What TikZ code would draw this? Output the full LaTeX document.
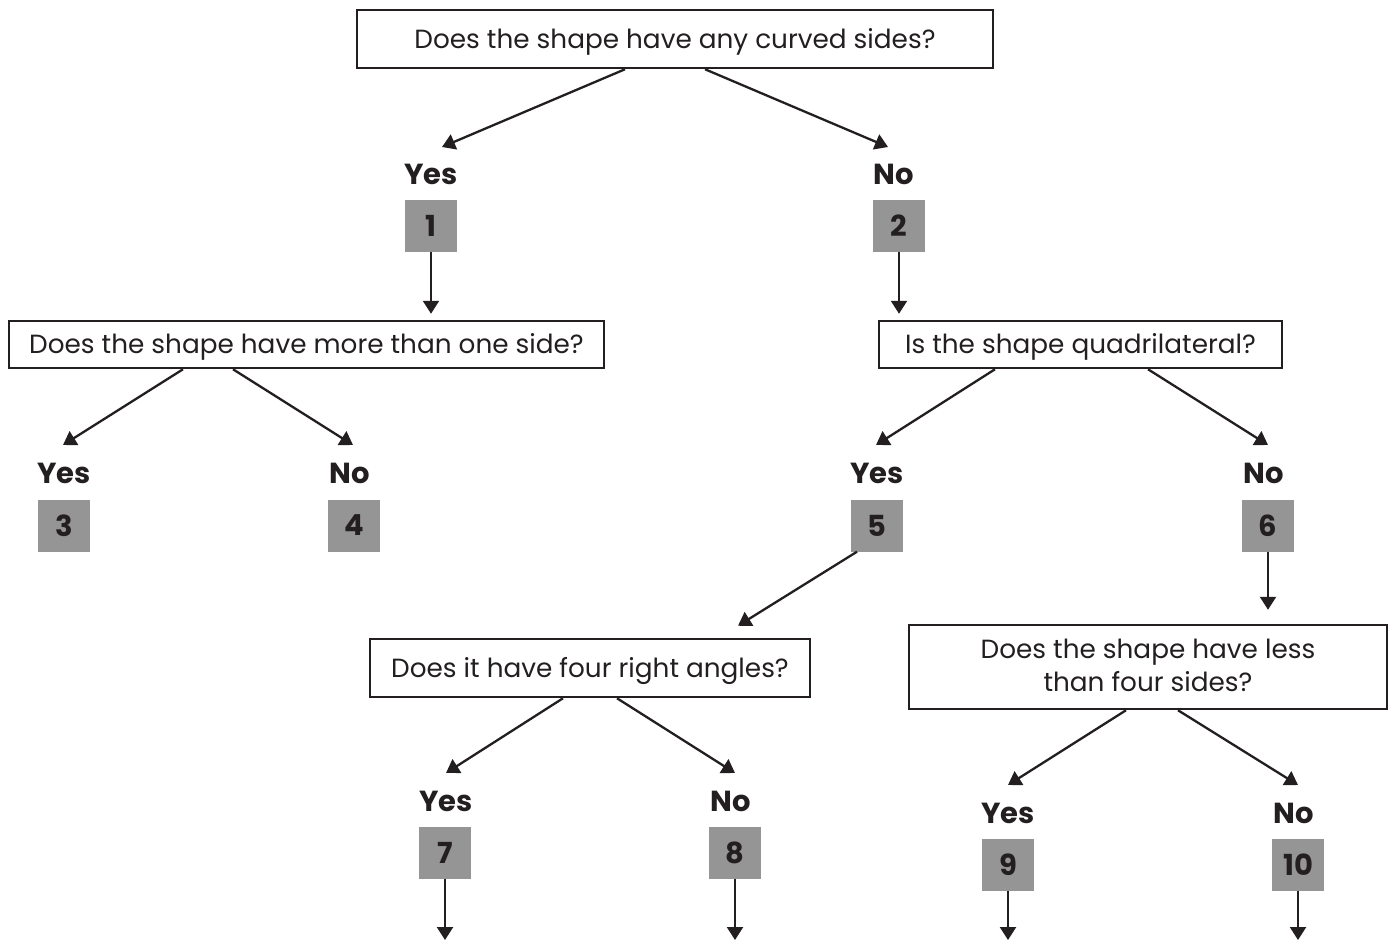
\documentclass[tikz,border=0pt]{standalone}
\usepackage{fontspec}
\setmainfont{Poppins}
\usetikzlibrary{arrows.meta,calc}
\definecolor{ink}{HTML}{231F20}
\definecolor{numgray}{HTML}{959595}
\begin{document}
\begin{tikzpicture}[x=1pt,y=-1pt,
  question/.style={draw=ink, line width=2.5pt, fill=white, text=ink, align=center,
    inner sep=0pt, font=\fontsize{26.3}{33}\selectfont},
  oneline/.style={text height=24pt, text depth=5.4pt},
  numbox/.style={fill=numgray, minimum width=52pt, minimum height=52pt, inner sep=0pt,
    text=ink, font=\fontsize{29}{30}\selectfont\bfseries},
  answer/.style={text=ink, inner sep=0pt, font=\fontsize{29}{30}\selectfont\bfseries},
  arr/.style={draw=ink, line width=2.3pt, -{Triangle[width=16pt,length=13pt]}}]
\useasboundingbox (0,0) rectangle (1392,940);

% question boxes
\node[question, oneline, minimum width=636pt, minimum height=58pt] (qA) at (675,39) {Does the shape have any curved sides?};
\node[question, oneline, minimum width=595pt, minimum height=47pt] (qB) at (306.5,344.5) {Does the shape have more than one side?};
\node[question, oneline, minimum width=403pt, minimum height=47pt] (qC) at (1080.5,344.5) {Is the shape quadrilateral?};
\node[question, oneline, minimum width=440pt, minimum height=58pt] (qD) at (590,668) {Does it have four right angles?};
\node[question, minimum width=478pt, minimum height=84pt, text depth=4pt] (qE) at (1148,667) {Does the shape have less\\than four sides?};

% answers
\node[answer] (a1) at (431,174) {Yes};
\node[answer] (a2) at (894,174) {No};
\node[answer] (a3) at (64,473) {Yes};
\node[answer] (a4) at (350,473) {No};
\node[answer] (a5) at (877,473) {Yes};
\node[answer] (a6) at (1264,473) {No};
\node[answer] (a7) at (446,801) {Yes};
\node[answer] (a8) at (731,801) {No};
\node[answer] (a9) at (1008,813) {Yes};
\node[answer] (a10) at (1294,813) {No};

% number boxes
\node[numbox] (n1) at (431,226) {1};
\node[numbox] (n2) at (899,226) {2};
\node[numbox] (n3) at (64,525.5) {3};
\node[numbox] (n4) at (354,525.5) {4};
\node[numbox] (n5) at (877,525.5) {5};
\node[numbox] (n6) at (1268,525.5) {6};
\node[numbox] (n7) at (445,852.5) {7};
\node[numbox] (n8) at (735,852.5) {8};
\node[numbox] (n9) at (1008,865) {9};
\node[numbox] (n10) at (1298,865) {10};

% free ends at the bottom
\coordinate (e7) at (n7.south |- 0,940);
\coordinate (e8) at (n8.south |- 0,940);
\coordinate (e9) at (n9.south |- 0,940);
\coordinate (e10) at (n10.south |- 0,940);

% connectors from questions to answers
\draw[arr] ([xshift=-50pt]qA.south) -- ($(a1.center)+(11,-27)$);
\draw[arr] ([xshift=30pt]qA.south) -- ($(a2.center)+(-6,-27)$);
\draw[arr] ([xshift=-123.5pt]qB.south) -- ($(a3.center)+(-1,-28)$);
\draw[arr] ([xshift=-73.5pt]qB.south) -- ($(a4.center)+(3,-28)$);
\draw[arr] ([xshift=-85.5pt]qC.south) -- ($(a5.center)+(-1,-28)$);
\draw[arr] ([xshift=67.5pt]qC.south) -- ($(a6.center)+(4,-28)$);
\draw[arr] ([xshift=-27pt]qD.south) -- ($(a7.center)+(0,-28)$);
\draw[arr] ([xshift=27pt]qD.south) -- ($(a8.center)+(4,-28)$);
\draw[arr] ([xshift=-22pt]qE.south) -- ($(a9.center)+(0,-28)$);
\draw[arr] ([xshift=30pt]qE.south) -- ($(a10.center)+(4,-28)$);

% connectors from number boxes
\draw[arr] (n1.south) -- ($(n1.south |- qB.north)+(0,-6)$);
\draw[arr] (n2.south) -- ($(n2.south |- qC.north)+(0,-6)$);
\draw[arr] ([xshift=-20pt]n5.south) -- ($(qD.north)+(148,-12)$);
\draw[arr] (n6.south) -- ($(n6.south |- qE.north)+(0,-14)$);
\draw[arr] (n7.south) -- (e7);
\draw[arr] (n8.south) -- (e8);
\draw[arr] (n9.south) -- (e9);
\draw[arr] (n10.south) -- (e10);
\end{tikzpicture}
\end{document}
